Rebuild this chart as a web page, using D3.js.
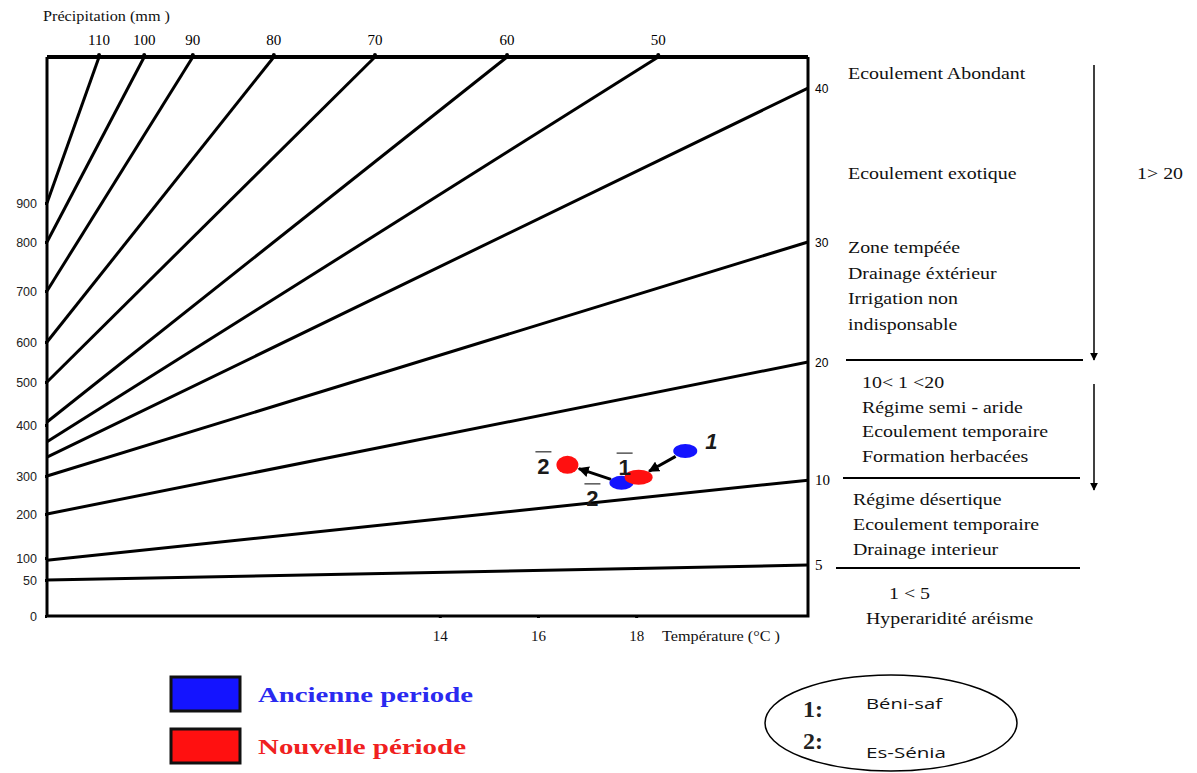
<!DOCTYPE html>
<html><head><meta charset="utf-8">
<script src="https://cdn.jsdelivr.net/npm/d3@7"></script>
<style>body{margin:0;background:#fff}svg{display:block}</style>
</head><body>
<svg id="c" width="1197" height="773"></svg>
<script>
// ---------------- DATA ----------------
const leftTicks = [0, 50, 100, 200, 300, 400, 500, 600, 700, 800, 900];      // Précipitation (mm)
const bottomTicks = [14, 16, 18];                                           // Température (°C)
// Index lines ending on the right edge
const rightIdx = [5, 10, 20, 30, 40];
const rightStartP = [50, 95, 200, 300, 337];
const rightEndP = [84, 289, 550, 800, 1195];
// Index lines ending on the top edge
const topIdx = [50, 60, 70, 80, 90, 100, 110];
const topStartP = [367, 407, 500, 600, 700, 800, 900];
const topEndT = [18.45, 15.37, 12.68, 10.62, 8.97, 7.98, 7.06];
// Stations
const stations = ["Béni-saf", "Es-Sénia"];
const stationNum = ["1", "2"];
const ancienT = [19.0, 17.7];
const ancienP = [349, 282];
const nouvT = [18.05, 16.6];
const nouvP = [297, 322];
// Zones (right side)
const zoneTexts = [
  ["Ecoulement Abondant"],
  ["Ecoulement exotique"],
  ["Zone tempéée", "Drainage éxtérieur", "Irrigation non", "indisponsable"],
  ["10< 1 <20", "Régime semi - aride", "Ecoulement temporaire", "Formation herbacées"],
  ["Régime désertique", "Ecoulement temporaire", "Drainage interieur"],
  ["1 < 5", "Hyperaridité aréisme"]
];
const legendLabels = ["Ancienne periode", "Nouvelle période"];

// ---------------- LAYOUT ----------------
const L = 47, R = 808, T = 57, B = 616;
const svg = d3.select("#c");
const x = d3.scaleLinear().domain([6, 21.5]).range([L, R]);
const y = d3.scaleLinear()
  .domain([0, 50, 100, 200, 300, 400, 500, 600, 700, 800, 900, 1275])
  .range([616, 580, 558, 514, 476, 425, 382, 342, 291, 242, 203, 57]);
const xMin = x.domain()[0], xMax = x.domain()[1], pTop = y.domain()[y.domain().length - 1];

const blue = "#1414ff", red = "#ff1010";
const serif = "Liberation Serif";
const stretch = (sel, f) => sel.each(function () {
  this.setAttribute("textLength", this.getComputedTextLength() * f);
  this.setAttribute("lengthAdjust", "spacingAndGlyphs");
});

// index lines
const g = svg.append("g").attr("stroke", "#000").attr("stroke-width", 3).attr("fill", "none");
rightIdx.forEach((d, i) => {
  g.append("line").attr("x1", x(xMin)).attr("y1", y(rightStartP[i]))
    .attr("x2", x(xMax)).attr("y2", y(rightEndP[i]));
  svg.append("text").attr("x", R + 7).attr("y", y(rightEndP[i]) + 5)
    .attr("font-family", i < 2 ? serif : "Liberation Sans")
    .attr("font-size", i < 2 ? 15 : 12).text(d);
});
topIdx.forEach((d, i) => {
  g.append("line").attr("x1", x(xMin)).attr("y1", y(topStartP[i]))
    .attr("x2", x(topEndT[i])).attr("y2", y(pTop));
  svg.append("text").attr("x", x(topEndT[i])).attr("y", 45).attr("text-anchor", "middle")
    .attr("font-family", serif).attr("font-size", 15).text(d);
  svg.append("circle").attr("cx", x(topEndT[i])).attr("cy", T - 2).attr("r", 2).attr("fill", "#000");
});

// frame
svg.append("line").attr("x1", L).attr("x2", R).attr("y1", T).attr("y2", T).attr("stroke", "#000").attr("stroke-width", 4);
svg.append("path").attr("d", `M${L},${T}V${B}H${R}V${T}`).attr("fill", "none").attr("stroke", "#000").attr("stroke-width", 3);

// left axis
const yAxis = svg.append("g").attr("transform", `translate(${L},0)`)
  .call(d3.axisLeft(y).tickValues(leftTicks).tickSize(2).tickPadding(8));
yAxis.select(".domain").remove();
yAxis.selectAll("text").attr("font-family", "Liberation Sans").attr("font-size", 12.5).attr("fill", "#222");
yAxis.selectAll("line").attr("stroke-width", 3);

// bottom axis
const xAxis = svg.append("g").attr("transform", `translate(0,${B})`)
  .call(d3.axisBottom(x).tickValues(bottomTicks).tickSize(2).tickPadding(12).tickFormat(d3.format("d")));
xAxis.select(".domain").remove();
xAxis.selectAll("text").attr("font-family", serif).attr("font-size", 15).attr("fill", "#111");
xAxis.selectAll("line").attr("stroke-width", 3);
svg.append("text").attr("x", 662).attr("y", 641).attr("font-family", serif)
  .attr("font-size", 14).attr("fill", "#111").attr("textLength", 118).attr("lengthAdjust", "spacingAndGlyphs")
  .text("Température (°C )");
svg.append("text").attr("x", 43).attr("y", 21).attr("font-family", serif)
  .attr("font-size", 14).attr("fill", "#111").attr("textLength", 127).attr("lengthAdjust", "spacingAndGlyphs")
  .text("Précipitation (mm )");

// zones text
const zoneLayout = [
  {x: 848, y: 79, dy: 25},
  {x: 848, y: 179, dy: 25},
  {x: 848, y: 253, dy: 25.5},
  {x: 862, y: 388, dy: 24.5},
  {x: 853, y: 505, dy: 25},
  {x: 889, y: 599, dy: 25}
];
zoneTexts.forEach((lines, i) => {
  lines.forEach((t, j) => {
    const lx = (i === 5 && j === 1) ? 866 : zoneLayout[i].x;
    svg.append("text").attr("x", lx).attr("y", zoneLayout[i].y + j * zoneLayout[i].dy)
      .attr("font-family", serif).attr("font-size", 17).attr("fill", "#111").text(t)
      .call(stretch, 1.17);
  });
});
svg.append("text").attr("x", 1137).attr("y", 179).attr("font-family", serif).attr("font-size", 17)
  .attr("fill", "#111").text("1> 20").call(stretch, 1.17);
// separators
[[846, 1083, 360], [843, 1080, 478], [836, 1080, 568]].forEach(s => {
  svg.append("line").attr("x1", s[0]).attr("x2", s[1]).attr("y1", s[2]).attr("y2", s[2])
    .attr("stroke", "#000").attr("stroke-width", 2);
});
// vertical arrows
svg.append("defs").html(
  `<marker id="ah" viewBox="0 0 10 10" refX="9" refY="5" markerWidth="8" markerHeight="9" orient="auto" markerUnits="userSpaceOnUse"><path d="M0,0L10,5L0,10z" fill="#000"/></marker>
   <marker id="ah2" viewBox="0 0 10 10" refX="9" refY="5" markerWidth="11" markerHeight="11" orient="auto" markerUnits="userSpaceOnUse"><path d="M0,0L10,5L0,10z" fill="#000"/></marker>`);
[[65, 360], [384, 490]].forEach(a => {
  svg.append("line").attr("x1", 1094).attr("x2", 1094).attr("y1", a[0]).attr("y2", a[1])
    .attr("stroke", "#000").attr("stroke-width", 1.5).attr("marker-end", "url(#ah)");
});

// station arrows ancien -> nouveau
stations.forEach((s, i) => {
  const ax = x(ancienT[i]), ay = y(ancienP[i]), nx = x(nouvT[i]), ny = y(nouvP[i]);
  const dx = nx - ax, dy = ny - ay, len = Math.hypot(dx, dy);
  const ux = dx / len, uy = dy / len;
  svg.append("line").attr("x1", ax + ux * 11).attr("y1", ay + uy * 11)
    .attr("x2", nx - ux * 12).attr("y2", ny - uy * 12)
    .attr("stroke", "#000").attr("stroke-width", 3).attr("marker-end", "url(#ah2)");
});
stations.forEach((s, i) => {
  svg.append("ellipse").attr("cx", x(ancienT[i])).attr("cy", y(ancienP[i]))
    .attr("rx", 12).attr("ry", 7).attr("fill", blue);
});
stations.forEach((s, i) => {
  svg.append("ellipse").attr("cx", x(nouvT[i])).attr("cy", y(nouvP[i]))
    .attr("rx", i === 0 ? 14 : 11).attr("ry", i === 0 ? 7.5 : 9).attr("fill", red);
});
// station number labels
const numLab = (t, px, py, over, italic) => {
  svg.append("text").attr("x", px).attr("y", py).attr("text-anchor", "middle")
    .attr("font-family", "Liberation Sans").attr("font-weight", "bold")
    .attr("font-style", italic ? "italic" : "normal").attr("font-size", 22).attr("fill", "#1a1a1a").text(t);
  if (over) svg.append("line").attr("x1", px - 8).attr("x2", px + 8).attr("y1", py - 22).attr("y2", py - 22)
    .attr("stroke", "#555").attr("stroke-width", 1.5);
};
numLab(stationNum[0], x(ancienT[0]) + 26, y(ancienP[0]) - 2, false, true);
numLab(stationNum[1], x(nouvT[1]) - 24, y(nouvP[1]) + 9, true, false);
numLab(stationNum[0], x(nouvT[0]) - 14, y(nouvP[0]) - 2, true, false);
numLab(stationNum[1], x(ancienT[1]) - 29, y(ancienP[1]) + 23, true, false);

// legend
const legColors = [blue, red];
legendLabels.forEach((t, i) => {
  const ly = 677 + i * 52;
  svg.append("rect").attr("x", 171).attr("y", ly).attr("width", 69).attr("height", 34)
    .attr("fill", legColors[i]).attr("stroke", "#111").attr("stroke-width", 3);
  svg.append("text").attr("x", 258).attr("y", ly + 25).attr("font-family", serif)
    .attr("font-weight", "bold").attr("font-size", 22).attr("fill", i === 0 ? "#2a2af0" : "#f02020")
    .attr("textLength", i === 0 ? 215 : 208).attr("lengthAdjust", "spacingAndGlyphs").text(t);
});

// station key ellipse
svg.append("ellipse").attr("cx", 891).attr("cy", 723).attr("rx", 126).attr("ry", 48)
  .attr("fill", "none").attr("stroke", "#000").attr("stroke-width", 1.5);
stations.forEach((s, i) => {
  svg.append("text").attr("x", 803).attr("y", [717, 749][i]).attr("font-family", serif)
    .attr("font-weight", "bold").attr("font-size", 24).attr("fill", "#222").text(stationNum[i] + ":");
  svg.append("text").attr("x", 866).attr("y", [709, 758][i]).attr("font-family", "Open Sans")
    .attr("font-size", 15).attr("fill", "#111").attr("textLength", [76, 80][i])
    .attr("lengthAdjust", "spacingAndGlyphs").text(s);
});
</script>
</body></html>
